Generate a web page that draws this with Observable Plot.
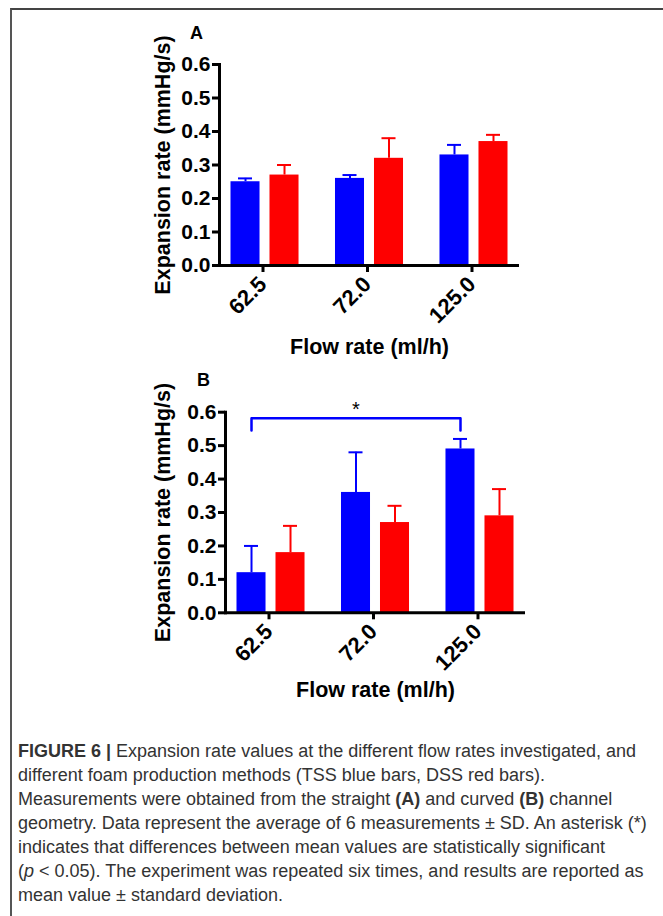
<!DOCTYPE html>
<html><head><meta charset="utf-8">
<script src="https://cdn.jsdelivr.net/npm/d3@7"></script>
<script src="https://cdn.jsdelivr.net/npm/@observablehq/plot@0.6"></script>
<style>
body{margin:0;background:#fff;}
#page{position:relative;width:663px;height:916px;overflow:hidden;background:#fff;font-family:"Liberation Sans",Arial,sans-serif;}
#frame{position:absolute;left:10px;top:8px;width:700px;height:1000px;border-top:2px solid #444;border-left:2px solid #555;box-sizing:border-box;pointer-events:none;z-index:5;}
.panel{position:absolute;left:0;}
#caption{position:absolute;left:18px;top:739px;width:645px;font-size:18px;line-height:24px;color:#333;white-space:nowrap;}
</style></head><body><div id="page">
<div id="frame"></div>
<div id="pA" class="panel" style="top:0px"></div>
<div id="pB" class="panel" style="top:350px"></div>
<div id="caption"><b>FIGURE 6 |</b> Expansion rate values at the different flow rates investigated, and<br>different foam production methods (TSS blue bars, DSS red bars).<br>Measurements were obtained from the straight <b>(A)</b> and curved <b>(B)</b> channel<br>geometry. Data represent the average of 6 measurements &#177; SD. An asterisk (*)<br>indicates that differences between mean values are statistically significant<br>(<i>p</i> &lt; 0.05). The experiment was repeated six times, and results are reported as<br>mean value &#177; standard deviation.</div>
</div>
<script>
const flowRates = ["62.5", "72.0", "125.0"];
const yTicks = [0, 0.1, 0.2, 0.3, 0.4, 0.5, 0.6];
const yLabel = "Expansion rate (mmHg/s)";
const xLabel = "Flow rate (ml/h)";
// Panel A (straight channel)
const tssA = [0.25, 0.26, 0.33];
const tssSdA = [0.01, 0.01, 0.03];
const dssA = [0.27, 0.32, 0.37];
const dssSdA = [0.03, 0.06, 0.02];
// Panel B (curved channel)
const tssB = [0.12, 0.36, 0.49];
const tssSdB = [0.08, 0.12, 0.03];
const dssB = [0.18, 0.27, 0.29];
const dssSdB = [0.08, 0.05, 0.08];
// significance bracket in B (TSS 62.5 vs TSS 125.0)
const bracketFlows = ["62.5", "62.5", "125.0", "125.0"];
const bracketY = [0.545, 0.582, 0.582, 0.545];
const starFlow = ["72.0"];
const starY = [0.607];

const BLUE = "#0000fe", RED = "#fe0000";
const FONT = "Liberation Sans, Arial, sans-serif";

function panel({tss, tssSd, dss, dssSd, height, marginTop, marginBottom, marginLeft, marginRight, letter, letterDx, letterDy, yDx, xDy, extra}) {
  const rows = flowRates.map((f, i) => ({flow: f, tss: tss[i], tssHi: tss[i] + tssSd[i], dss: dss[i], dssHi: dss[i] + dssSd[i]}));
  const half = 19.5;
  return Plot.plot({
    width: 663, height, marginTop, marginBottom, marginLeft, marginRight,
    style: {background: "transparent", fontFamily: FONT, color: "#000", overflow: "visible"},
    x: {type: "band", domain: flowRates, paddingInner: 0.349, paddingOuter: 0.11, round: false},
    y: {domain: [0, 0.6]},
    marks: [
      Plot.barY(rows, {x: "flow", y: "tss", fill: BLUE, insetRight: 39}),
      Plot.barY(rows, {x: "flow", y: "dss", fill: RED, insetLeft: 39}),
      Plot.ruleX(rows, {x: "flow", y1: "tss", y2: "tssHi", stroke: BLUE, strokeWidth: 2, dx: -half}),
      Plot.ruleX(rows, {x: "flow", y1: "dss", y2: "dssHi", stroke: RED, strokeWidth: 2, dx: half}),
      Plot.tickY(rows, {x: "flow", y: "tssHi", stroke: BLUE, strokeWidth: 2, insetLeft: 7.5, insetRight: 46.5}),
      Plot.tickY(rows, {x: "flow", y: "dssHi", stroke: RED, strokeWidth: 2, insetLeft: 46.5, insetRight: 7.5}),
      Plot.ruleY([0], {strokeWidth: 3}),
      Plot.frame({anchor: "left", strokeWidth: 3}),
      Plot.axisY({ticks: yTicks, tickFormat: d3.format(".1f"), tickSize: 7, tickPadding: 2, strokeWidth: 3, fontSize: 21, fontWeight: "bold", label: null}),
      Plot.axisX({tickRotate: -45, tickSize: 7, tickPadding: 8, strokeWidth: 3, fontSize: 22, fontWeight: "bold", label: null, dx: -2}),
      Plot.text([letter], {frameAnchor: "top-left", textAnchor: "middle", lineAnchor: "middle", dx: letterDx, dy: letterDy, fontSize: 18, fontWeight: "bold"}),
      Plot.text([yLabel], {frameAnchor: "left", textAnchor: "middle", lineAnchor: "middle", rotate: -90, dx: yDx, fontSize: 21.5, fontWeight: "bold"}),
      Plot.text([xLabel], {frameAnchor: "bottom", textAnchor: "middle", lineAnchor: "middle", dy: xDy, fontSize: 21.5, fontWeight: "bold"}),
      ...(extra || [])
    ]
  });
}

document.getElementById("pA").append(panel({
  tss: tssA, tssSd: tssSdA, dss: dssA, dssSd: dssSdA,
  height: 360, marginTop: 64, marginBottom: 95, marginLeft: 219, marginRight: 144,
  letter: "A", letterDx: -23, letterDy: -31, yDx: -56, xDy: 82
}));

const bracket = bracketFlows.map((f, i) => ({flow: f, y: bracketY[i]}));
const star = starFlow.map((f, i) => ({flow: f, y: starY[i]}));
document.getElementById("pB").append(panel({
  tss: tssB, tssSd: tssSdB, dss: dssB, dssSd: dssSdB,
  height: 370, marginTop: 61.7, marginBottom: 107.7, marginLeft: 225, marginRight: 138,
  letter: "B", letterDx: -22, letterDy: -32, yDx: -62, xDy: 77,
  extra: [
    Plot.line(bracket, {x: "flow", y: "y", stroke: BLUE, strokeWidth: 2.5, dx: -19.5}),
    Plot.text(star, {x: "flow", y: "y", text: () => "*", dx: -19.5, fontSize: 20})
  ]
}));
</script>
</body></html>
